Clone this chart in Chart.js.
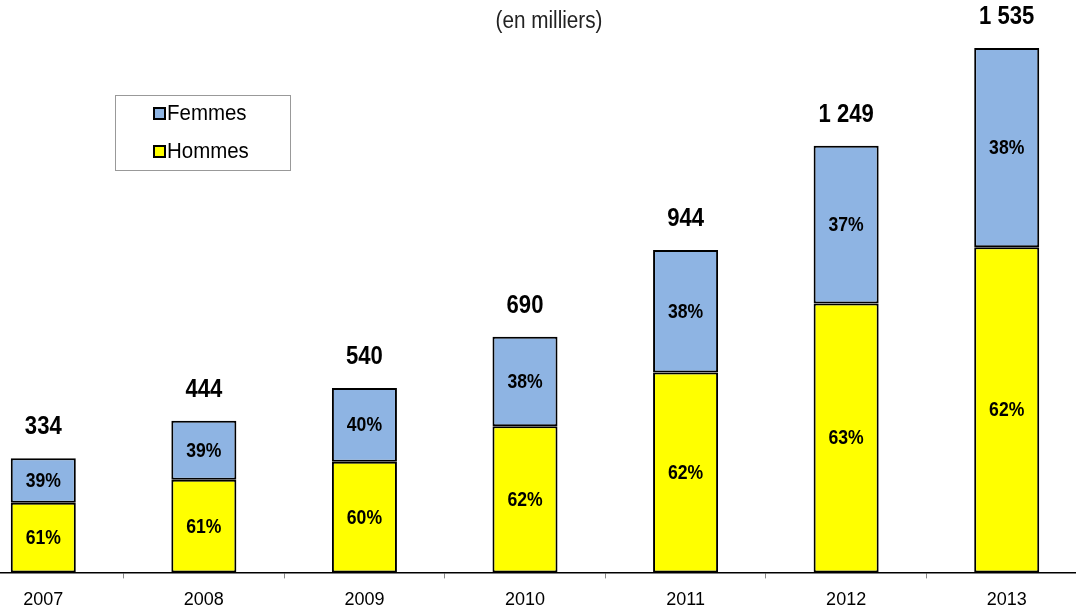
<!DOCTYPE html>
<html>
<head>
<meta charset="utf-8">
<script src="https://cdn.jsdelivr.net/npm/chart.js@4"></script>
<style>
  html, body { margin: 0; padding: 0; background: #fff; overflow: hidden; width: 1076px; height: 608px; }
  #frame { position: relative; width: 1076px; height: 608px; overflow: hidden; }
  #chart { position: absolute; left: -37px; top: 0; }
</style>
</head>
<body>
<div id="frame"><canvas id="chart" width="1124" height="622"></canvas></div>
<script>
const Years = ["2007", "2008", "2009", "2010", "2011", "2012", "2013"];
const Hommes = [204, 271, 324, 428, 585, 787, 952];
const Femmes = [130, 173, 216, 262, 359, 462, 583];
const HommesPct = ["61%", "61%", "60%", "62%", "62%", "63%", "62%"];
const FemmesPct = ["39%", "39%", "40%", "38%", "38%", "37%", "38%"];
const Totals = ["334", "444", "540", "690", "944", "1 249", "1 535"];
const Subtitle = "(en milliers)";

const FontFamily = "'Liberation Sans', Arial, sans-serif";

// Arial Narrow look-alike: squeeze the text horizontally
function NarrowText(ctx, text, x, y, font, squeeze) {
  ctx.save();
  ctx.font = font;
  ctx.translate(x, y);
  ctx.scale(squeeze, 1);
  ctx.fillText(text, 0, 0);
  ctx.restore();
}

const LabelsPlugin = {
  id: "labels",
  afterDatasetsDraw(chart) {
    const ctx = chart.ctx;
    ctx.save();
    ctx.textAlign = "center";
    ctx.textBaseline = "middle";
    ctx.fillStyle = "#000";
    const pctSets = [HommesPct, FemmesPct];
    chart.data.datasets.forEach((ds, di) => {
      const meta = chart.getDatasetMeta(di);
      meta.data.forEach((bar, i) => {
        const top = Math.min(bar.y, bar.base);
        const bottom = Math.max(bar.y, bar.base);
        NarrowText(ctx, pctSets[di][i], bar.x, (top + bottom) / 2 + 1, "bold 20px " + FontFamily, 0.88);
      });
    });
    const topMeta = chart.getDatasetMeta(1);
    topMeta.data.forEach((bar, i) => {
      NarrowText(ctx, Totals[i], bar.x, bar.y - 31, "bold 26px " + FontFamily, 0.85);
    });
    // subtitle
    ctx.fillStyle = "#222";
    NarrowText(ctx, Subtitle, 586, 22, "23px " + FontFamily, 0.9);
    // legend box
    const lx = 152, ly = 95, lw = 175, lh = 75;
    ctx.fillStyle = "#fff";
    ctx.fillRect(lx, ly, lw, lh);
    ctx.strokeStyle = "#999";
    ctx.lineWidth = 1;
    ctx.strokeRect(lx + 0.5, ly + 0.5, lw, lh);
    const items = [chart.data.datasets[1], chart.data.datasets[0]];
    items.forEach((ds, k) => {
      const cy = ly + 19 + k * 38;
      ctx.fillStyle = ds.backgroundColor;
      ctx.fillRect(lx + 39, cy - 6, 11, 11);
      ctx.strokeStyle = "#000";
      ctx.lineWidth = 2;
      ctx.strokeRect(lx + 39, cy - 6, 11, 11);
      ctx.fillStyle = "#000";
      ctx.textAlign = "left";
      NarrowText(ctx, ds.label, lx + 52, cy, "22px " + FontFamily, 0.93);
    });
    ctx.restore();
  }
};

const Config = {
  type: "bar",
  data: {
    labels: Years,
    datasets: [
      { label: "Hommes", data: Hommes, backgroundColor: "#FFFF00", borderColor: "#000", borderWidth: 2, borderSkipped: false },
      { label: "Femmes", data: Femmes, backgroundColor: "#8EB4E3", borderColor: "#000", borderWidth: 2, borderSkipped: false }
    ]
  },
  options: {
    responsive: false,
    animation: false,
    layout: { padding: { top: 48, left: 0, right: 0, bottom: 0 } },
    datasets: { bar: { barPercentage: 0.405, categoryPercentage: 1 } },
    plugins: {
      legend: { display: false },
      tooltip: { enabled: false },
      title: { display: false }
    },
    scales: {
      x: {
        stacked: true,
        border: { display: true, color: "#000", width: 1.5 },
        grid: { display: true, drawOnChartArea: false, drawTicks: true, tickLength: 6, color: "#888", offset: true },
        ticks: { color: "#000", font: { family: FontFamily, size: 18 }, padding: 11, maxRotation: 0 }
      },
      y: {
        stacked: true,
        display: false,
        min: 0,
        max: 1535
      }
    }
  },
  plugins: [LabelsPlugin]
};

new Chart(document.getElementById("chart"), Config);
</script>
</body>
</html>
